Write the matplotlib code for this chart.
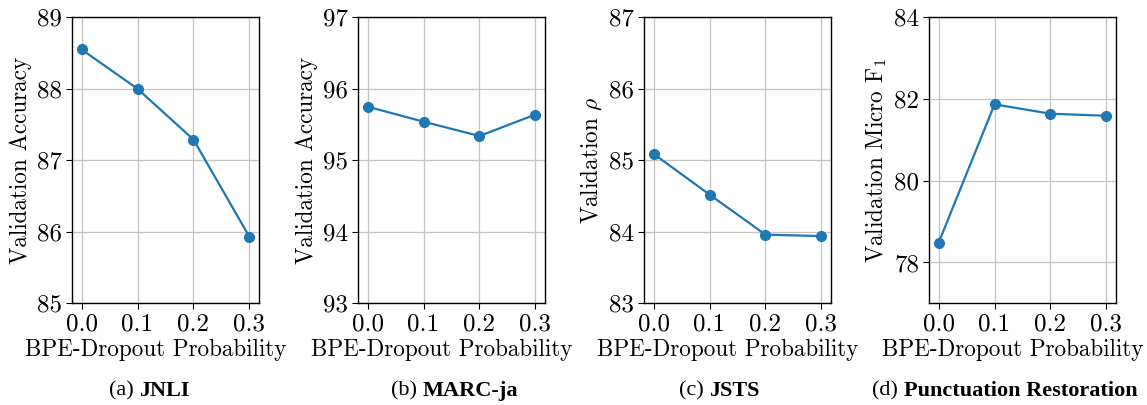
import matplotlib
matplotlib.use("Agg")
import matplotlib.pyplot as plt

# Data
probs = [0.0, 0.1, 0.2, 0.3]
jnli = [88.55, 88.0, 87.29, 85.93]
marc = [95.75, 95.54, 95.34, 95.64]
jsts = [85.09, 84.52, 83.96, 83.94]
punct = [78.48, 81.87, 81.64, 81.59]

panels = [
    ("(a)", "JNLI", jnli, "Validation Accuracy", (85, 89), [85, 86, 87, 88, 89]),
    ("(b)", "MARC-ja", marc, "Validation Accuracy", (93, 97), [93, 94, 95, 96, 97]),
    ("(c)", "JSTS", jsts, r"Validation $\rho$", (83, 87), [83, 84, 85, 86, 87]),
    ("(d)", "Punctuation Restoration", punct, r"Validation Micro F$_1$", (77, 84), [78, 80, 82, 84]),
]
xticks = [0.0, 0.1, 0.2, 0.3]
xlabels = ["0.0", "0.1", "0.2", "0.3"]

plt.rcParams["font.family"] = "serif"
plt.rcParams["font.serif"] = ["cmr10"]
plt.rcParams["mathtext.fontset"] = "cm"
plt.rcParams["axes.formatter.use_mathtext"] = True

W, H = 1147, 405
fig = plt.figure(figsize=(W / 100, H / 100), dpi=100)

lefts = [72, 358, 644, 929]
cap_centers = [149, 455, 719, 1005]
ax_w = 187
ax_top = 17.3
ax_bot = 303.3

caps = []
for (tag, name, vals, ylab, ylim, yt), lx, ccx in zip(panels, lefts, cap_centers):
    ax = fig.add_axes([lx / W, 1 - ax_bot / H, ax_w / W, (ax_bot - ax_top) / H])
    ax.plot(probs, vals, color="#1f77b4", marker="o", markersize=7, linewidth=1.6, zorder=3)
    ax.set_xlim(-0.0172, 0.3172)
    ax.set_ylim(*ylim)
    ax.set_yticks(yt)
    ax.set_yticklabels([str(v) for v in yt])
    ax.set_xticks(xticks)
    ax.set_xticklabels(xlabels)
    ax.grid(True, color="#c4c4c4", linewidth=0.9)
    ax.set_axisbelow(True)
    ax.tick_params(labelsize=18, length=4, width=0.8, pad=3)
    ax.set_xlabel("BPE-Dropout Probability", fontsize=16.7, labelpad=3, x=0.45)
    ax.set_ylabel(ylab, fontsize=16.7, labelpad=4)
    for s in ax.spines.values():
        s.set_linewidth(1.0)
    cx = ccx / W
    t1 = fig.text(cx, 1 - 391 / H, tag + " ", family="Liberation Serif", fontsize=16,
                  ha="right", va="center")
    t2 = fig.text(cx, 1 - 391 / H, name, family="Liberation Serif", fontsize=16,
                  fontweight="bold", ha="left", va="center")
    caps.append((t1, t2, cx))

fig.canvas.draw()
r = fig.canvas.get_renderer()
for t1, t2, cx in caps:
    w1 = t1.get_window_extent(r).width / W
    w2 = t2.get_window_extent(r).width / W
    start = cx - (w1 + w2) / 2
    t1.set_x(start + w1)
    t2.set_x(start + w1)

fig.savefig("out.png", dpi=100)
